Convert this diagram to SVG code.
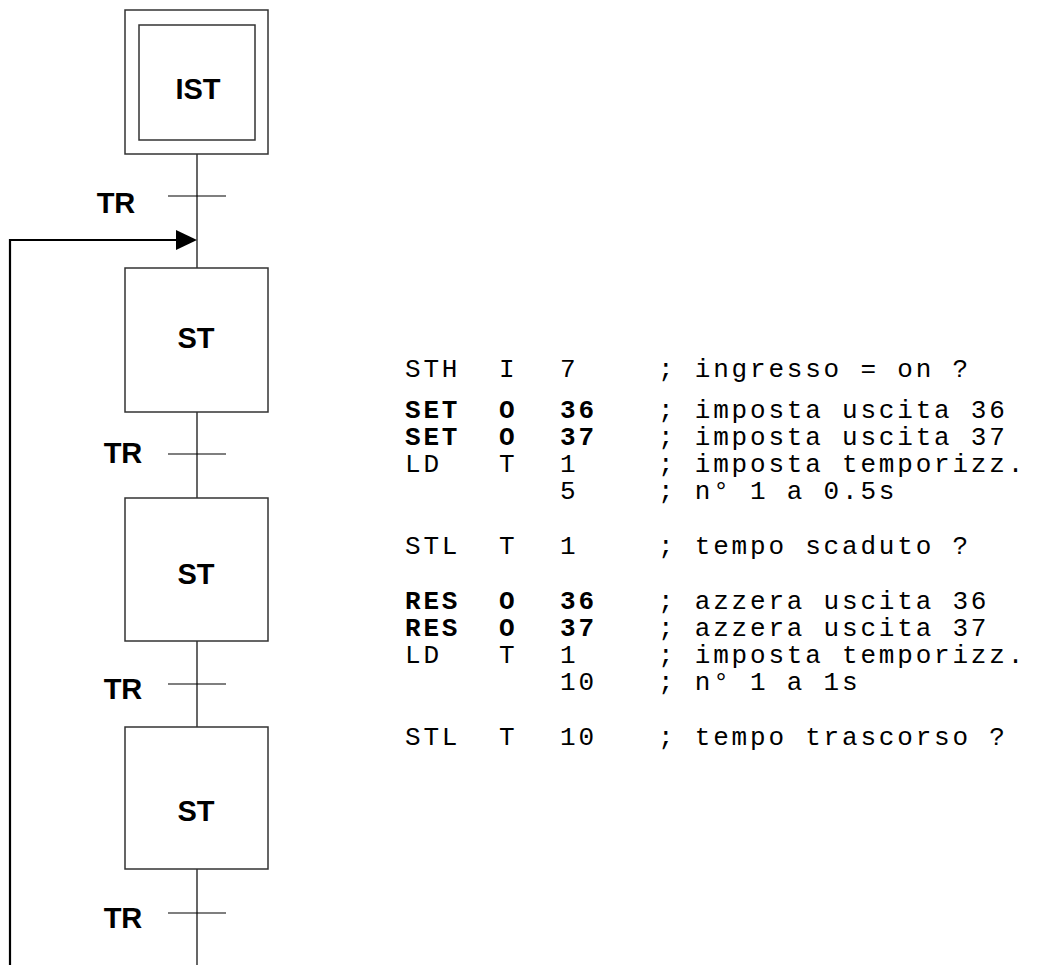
<svg xmlns="http://www.w3.org/2000/svg" width="1043" height="965" viewBox="0 0 1043 965">
<style>
.box{fill:#fff;stroke:#333;stroke-width:1.5}
.ln{stroke:#000;stroke-width:1.2;fill:none}
.lbl{font-family:"Liberation Sans",Arial,sans-serif;font-weight:bold;font-size:29px;fill:#000;text-anchor:middle}
.code{font-family:"Liberation Mono","Courier New",monospace;font-size:26px;letter-spacing:2.8px;fill:#000;white-space:pre}
.b{font-weight:bold}
</style>
<rect width="1043" height="965" fill="#fff"/>
<g id="connectors">
<line class="ln" x1="197" y1="154" x2="197" y2="268"/>
<line class="ln" x1="197" y1="412" x2="197" y2="498"/>
<line class="ln" x1="197" y1="641" x2="197" y2="727"/>
<line class="ln" x1="197" y1="869" x2="197" y2="965"/>
<polyline points="10,965 10,240 180,240" fill="none" stroke="#000" stroke-width="2.2"/>
<polygon points="176,230 197,240 176,250" fill="#000"/>
</g>
<g id="IST">
<rect class="box" x="125" y="10" width="143" height="144"/>
<rect class="box" x="139" y="25" width="116" height="115"/>
<text class="lbl" x="198" y="99">IST</text>
</g>
<g id="TR1">
<line class="ln" x1="168" y1="196" x2="226" y2="196"/>
<text class="lbl" x="116" y="213">TR</text>
</g>
<g id="ST1">
<rect class="box" x="125" y="268" width="143" height="144"/>
<text class="lbl" x="196" y="348">ST</text>
</g>
<g id="TR2">
<line class="ln" x1="168" y1="454" x2="226" y2="454"/>
<text class="lbl" x="123" y="463">TR</text>
</g>
<g id="ST2">
<rect class="box" x="125" y="498" width="143" height="143"/>
<text class="lbl" x="196" y="584">ST</text>
</g>
<g id="TR3">
<line class="ln" x1="168" y1="684" x2="226" y2="684"/>
<text class="lbl" x="123" y="699">TR</text>
</g>
<g id="ST3">
<rect class="box" x="125" y="727" width="143" height="142"/>
<text class="lbl" x="196" y="821">ST</text>
</g>
<g id="TR4">
<line class="ln" x1="168" y1="913" x2="226" y2="913"/>
<text class="lbl" x="123" y="928">TR</text>
</g>
<g id="code" class="code">
<text x="405" y="377">STH</text><text x="499" y="377">I</text><text x="560" y="377">7</text><text x="658" y="377">; ingresso = on ?</text>
<text class="b" x="405" y="418">SET</text><text class="b" x="499" y="418">O</text><text class="b" x="560" y="418">36</text><text x="658" y="418">; imposta uscita 36</text>
<text class="b" x="405" y="445">SET</text><text class="b" x="499" y="445">O</text><text class="b" x="560" y="445">37</text><text x="658" y="445">; imposta uscita 37</text>
<text x="405" y="472">LD</text><text x="499" y="472">T</text><text x="560" y="472">1</text><text x="658" y="472">; imposta temporizz.</text>
<text x="560" y="499">5</text><text x="658" y="499">; n° 1 a 0.5s</text>
<text x="405" y="554">STL</text><text x="499" y="554">T</text><text x="560" y="554">1</text><text x="658" y="554">; tempo scaduto ?</text>
<text class="b" x="405" y="609">RES</text><text class="b" x="499" y="609">O</text><text class="b" x="560" y="609">36</text><text x="658" y="609">; azzera uscita 36</text>
<text class="b" x="405" y="636">RES</text><text class="b" x="499" y="636">O</text><text class="b" x="560" y="636">37</text><text x="658" y="636">; azzera uscita 37</text>
<text x="405" y="663">LD</text><text x="499" y="663">T</text><text x="560" y="663">1</text><text x="658" y="663">; imposta temporizz.</text>
<text x="560" y="690">10</text><text x="658" y="690">; n° 1 a 1s</text>
<text x="405" y="745">STL</text><text x="499" y="745">T</text><text x="560" y="745">10</text><text x="658" y="745">; tempo trascorso ?</text>
</g>
</svg>
